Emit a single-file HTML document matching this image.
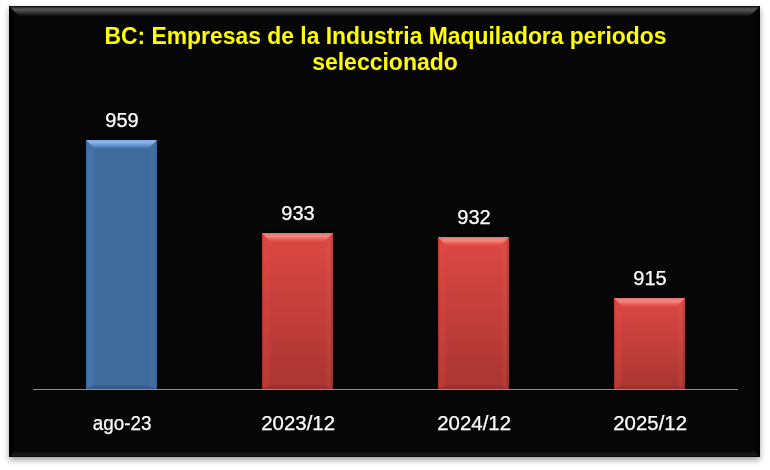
<!DOCTYPE html>
<html><head><meta charset="utf-8">
<style>
html,body{margin:0;padding:0;background:#fff;width:770px;height:470px;overflow:hidden;position:relative;}
#box{position:absolute;left:9px;top:6px;width:751px;height:451px;background:#060606;box-shadow:0 3px 6px rgba(0,0,0,0.38);}
#bl{left:0;top:0;bottom:0;width:5px;background:linear-gradient(90deg,#000,#030303);}
#br{right:0;top:0;bottom:0;width:8px;background:linear-gradient(90deg,#070707,#000);}
.bev{position:absolute;}
#btop{left:0;top:0;width:751px;height:10px;background:linear-gradient(#0a0a0a,#4a4a4a 25%,#555 40%,#1c1c1c 85%,#0a0a0a);clip-path:polygon(0 0,100% 0,calc(100% - 10px) 100%,10px 100%);}
#bbot{left:0;bottom:0;width:751px;height:6px;background:linear-gradient(#060606,#161616 40%,#161616 75%,#050505);clip-path:polygon(6px 0,calc(100% - 6px) 0,100% 100%,0 100%);}
.title{position:absolute;will-change:transform;left:0;width:770px;text-align:center;font-family:"Liberation Sans",sans-serif;font-weight:bold;font-size:23px;color:#ffff00;white-space:nowrap;}
.lbl{position:absolute;will-change:transform;-webkit-text-stroke:0.25px #fff;width:120px;text-align:center;font-family:"Liberation Sans",sans-serif;font-size:20px;color:#fff;white-space:nowrap;}
.bar{position:absolute;width:71px;bottom:81px;overflow:hidden;box-shadow:0 0 3px #000;}
.blue{background:#3f6a9c;}
.red{background:linear-gradient(#dd4844,#a93532);}
.bar div{position:absolute;}
.bar .fx{left:0;top:0;right:0;bottom:0;filter:blur(0.6px);}
.bar .t{left:0;top:0;width:100%;height:9px;clip-path:polygon(0 0,100% 0,calc(100% - 9px) 100%,9px 100%);}
.blue .t{background:linear-gradient(#7eaee6,#8ab9f0 25%,#6a98d2 55%,#4e7db8 80%,#3f6a9c);}
.red .t{background:linear-gradient(#e07672,#f28a80 35%,#f0625c 65%,#dc4743);}
.bar .l{left:0;top:0;bottom:0;width:9px;clip-path:polygon(0 0,100% 9px,100% calc(100% - 4px),0 100%);}
.bar .r{right:0;top:0;bottom:0;width:9px;clip-path:polygon(0 9px,100% 0,100% 100%,0 calc(100% - 4px));}
.blue .l{background:linear-gradient(90deg,#3e689b,#4472ac 25%,#4371aa 85%,#3f6a9c);}
.blue .r{background:linear-gradient(90deg,#3f6a9c,#426fa6 60%,#3c6597);}
.red .l{background:linear-gradient(90deg,rgba(60,0,0,0.2),rgba(230,75,60,0.3) 20%,rgba(230,75,60,0.2) 80%,rgba(230,75,60,0));}
.red .r{background:linear-gradient(90deg,rgba(255,255,255,0),rgba(255,120,120,0.12) 60%,rgba(0,0,0,0.15));}
.bar .b{left:0;bottom:0;width:100%;height:4px;clip-path:polygon(9px 0,calc(100% - 9px) 0,100% 100%,0 100%);}
.blue .b{background:linear-gradient(#3a6190,#365b88);}
.red .b{background:linear-gradient(#a3332f,#98302c);}
#axis{position:absolute;left:33px;top:389px;width:705px;height:1px;background:#8e8e8e;}
</style></head><body>
<div id="box">
  <div class="bev" id="bl"></div><div class="bev" id="br"></div><div class="bev" id="btop"></div>
  <div class="bev" id="bbot"></div>
</div>
<div class="title" style="top:23px;"><span style="display:inline-block;transform:scaleX(0.995)">BC: Empresas de la Industria Maquiladora periodos</span></div>
<div class="title" style="top:49px;">seleccionado</div>

<div class="bar blue" style="left:86px;top:140px;"><div class="fx"><div class="l"></div><div class="r"></div><div class="b"></div><div class="t"></div></div></div>
<div class="bar red" style="left:262px;top:233px;"><div class="fx"><div class="l"></div><div class="r"></div><div class="b"></div><div class="t"></div></div></div>
<div class="bar red" style="left:438px;top:237px;"><div class="fx"><div class="l"></div><div class="r"></div><div class="b"></div><div class="t"></div></div></div>
<div class="bar red" style="left:614px;top:298px;"><div class="fx"><div class="l"></div><div class="r"></div><div class="b"></div><div class="t"></div></div></div>
<div id="axis"></div>

<div class="lbl" style="left:61.5px;top:109px;">959</div>
<div class="lbl" style="left:237.5px;top:202px;">933</div>
<div class="lbl" style="left:413.5px;top:206px;">932</div>
<div class="lbl" style="left:589.5px;top:267px;">915</div>

<div class="lbl" style="left:61.5px;top:412px;"><span style="display:inline-block;transform:scaleX(0.94)">ago-23</span></div>
<div class="lbl" style="left:237.5px;top:412px;"><span style="display:inline-block;transform:scaleX(1.02)">2023/12</span></div>
<div class="lbl" style="left:413.5px;top:412px;"><span style="display:inline-block;transform:scaleX(1.02)">2024/12</span></div>
<div class="lbl" style="left:589.5px;top:412px;"><span style="display:inline-block;transform:scaleX(1.02)">2025/12</span></div>
</body></html>
